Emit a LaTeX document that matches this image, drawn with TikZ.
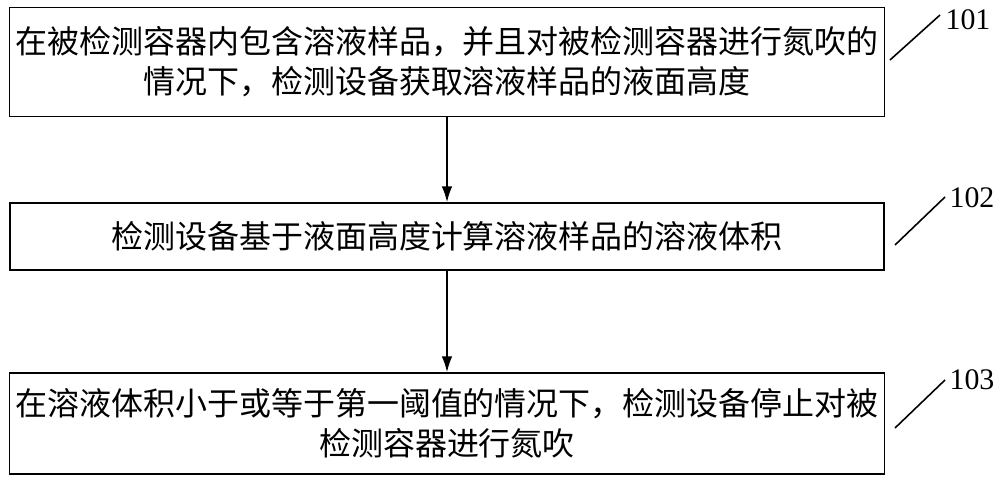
\documentclass[tikz,border=0pt]{standalone}
\usepackage{fontspec}
\newfontfamily\cjk{Noto Sans CJK SC}
\setmainfont{Liberation Serif}
\usetikzlibrary{arrows.meta}
\begin{document}
\begin{tikzpicture}[x=0.02cm,y=-0.02cm,
  stepbox/.style={draw,line width=0.9pt,minimum width=874*0.02cm,align=center,font=\cjk\fontsize{18.2}{22.7}\selectfont},
  arr/.style={-{Latex[length=9pt,width=6pt]},line width=0.9pt},
  lbl/.style={font=\fontsize{17}{20}\selectfont}]
\useasboundingbox (0,0) rectangle (1000,482);
\node[stepbox,minimum height=109*0.02cm] (b1) at (447,62) {在被检测容器内包含溶液样品，并且对被检测容器进行氮吹的\\情况下，检测设备获取溶液样品的液面高度};
\node[stepbox,minimum height=67*0.02cm] (b2) at (447,236.5) {检测设备基于液面高度计算溶液样品的溶液体积};
\node[stepbox,minimum height=101*0.02cm] (b3) at (447,423.5) {在溶液体积小于或等于第一阈值的情况下，检测设备停止对被\\检测容器进行氮吹};
\draw[arr] (b1) -- (b2);
\draw[arr] (b2) -- (b3);
\node[lbl] (l1) at (968,20) {101};
\node[lbl] (l2) at (972,198) {102};
\node[lbl] (l3) at (972,380) {103};
\coordinate (s1a) at (890,60); \coordinate (s1b) at (940,15);
\coordinate (s2a) at (895,245); \coordinate (s2b) at (945,197);
\coordinate (s3a) at (895,428); \coordinate (s3b) at (945,380);
\draw[line width=0.9pt] (s1a) -- (s1b);
\draw[line width=0.9pt] (s2a) -- (s2b);
\draw[line width=0.9pt] (s3a) -- (s3b);
\end{tikzpicture}
\end{document}
